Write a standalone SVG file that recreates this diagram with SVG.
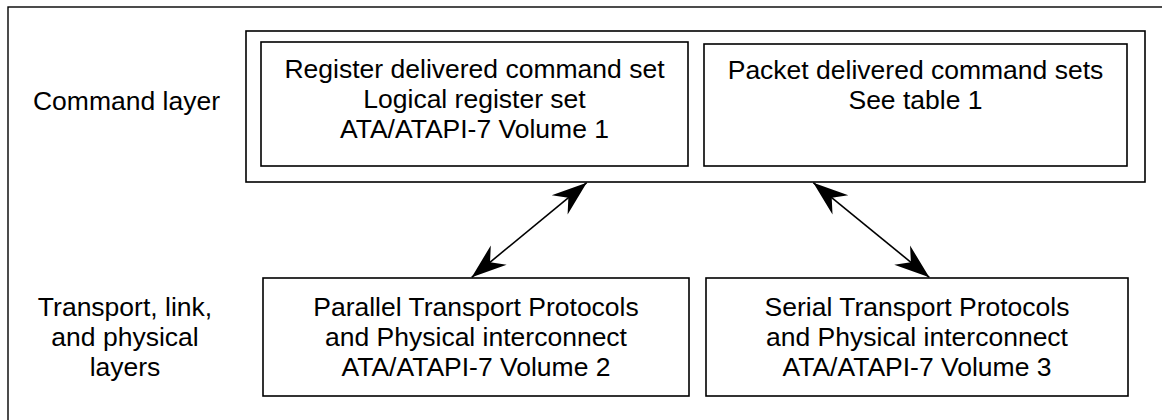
<svg xmlns="http://www.w3.org/2000/svg" width="1162" height="420" viewBox="0 0 1162 420">
<style>
.box{fill:none;stroke:#000;stroke-width:1.6}
.frame{fill:none;stroke:#000;stroke-width:1.4}
.t{font-family:"Liberation Sans",Arial,sans-serif;font-size:26.5px;fill:#000;text-anchor:middle}
.conn{stroke:#000;stroke-width:1.6;fill:none}
</style>
<defs>
<marker id="ah" markerUnits="userSpaceOnUse" markerWidth="40" markerHeight="30" viewBox="-30 -12 32 24" refX="0" refY="0" orient="auto-start-reverse">
<path d="M0,0 L-28,-10 L-19,0 L-28,10 Z" fill="#000"/>
</marker>
</defs>
<rect x="0" y="0" width="1162" height="420" fill="#fff"/>
<rect class="frame" x="8" y="7" width="1170" height="430"/>
<g id="label-command">
<text class="t" x="126.5" y="110">Command layer</text>
</g>
<g id="label-transport">
<text class="t" x="125" y="316">Transport, link,</text>
<text class="t" x="125" y="346">and physical</text>
<text class="t" x="125" y="376">layers</text>
</g>
<g id="command-layer">
<rect class="box" x="246" y="31" width="899" height="151"/>
</g>
<g id="register-set">
<rect class="box" x="261" y="42" width="427" height="124"/>
<text class="t" x="474.5" y="78">Register delivered command set</text>
<text class="t" x="474.5" y="108">Logical register set</text>
<text class="t" x="474.5" y="138">ATA/ATAPI-7 Volume 1</text>
</g>
<g id="packet-sets">
<rect class="box" x="704" y="44" width="423" height="122"/>
<text class="t" x="915.5" y="79">Packet delivered command sets</text>
<text class="t" x="915.5" y="109">See table 1</text>
</g>
<g id="parallel">
<rect class="box" x="263" y="278" width="426" height="118"/>
<text class="t" x="476" y="316">Parallel Transport Protocols</text>
<text class="t" x="476" y="346">and Physical interconnect</text>
<text class="t" x="476" y="376">ATA/ATAPI-7 Volume 2</text>
</g>
<g id="serial">
<rect class="box" x="706" y="278" width="422" height="118"/>
<text class="t" x="917" y="316">Serial Transport Protocols</text>
<text class="t" x="917" y="346">and Physical interconnect</text>
<text class="t" x="917" y="376">ATA/ATAPI-7 Volume 3</text>
</g>
<g id="connectors">
<line class="conn" x1="586.7" y1="182.7" x2="471.7" y2="277.3" marker-start="url(#ah)" marker-end="url(#ah)"/>
<line class="conn" x1="813.3" y1="182.7" x2="929.3" y2="277.3" marker-start="url(#ah)" marker-end="url(#ah)"/>
</g>
</svg>
